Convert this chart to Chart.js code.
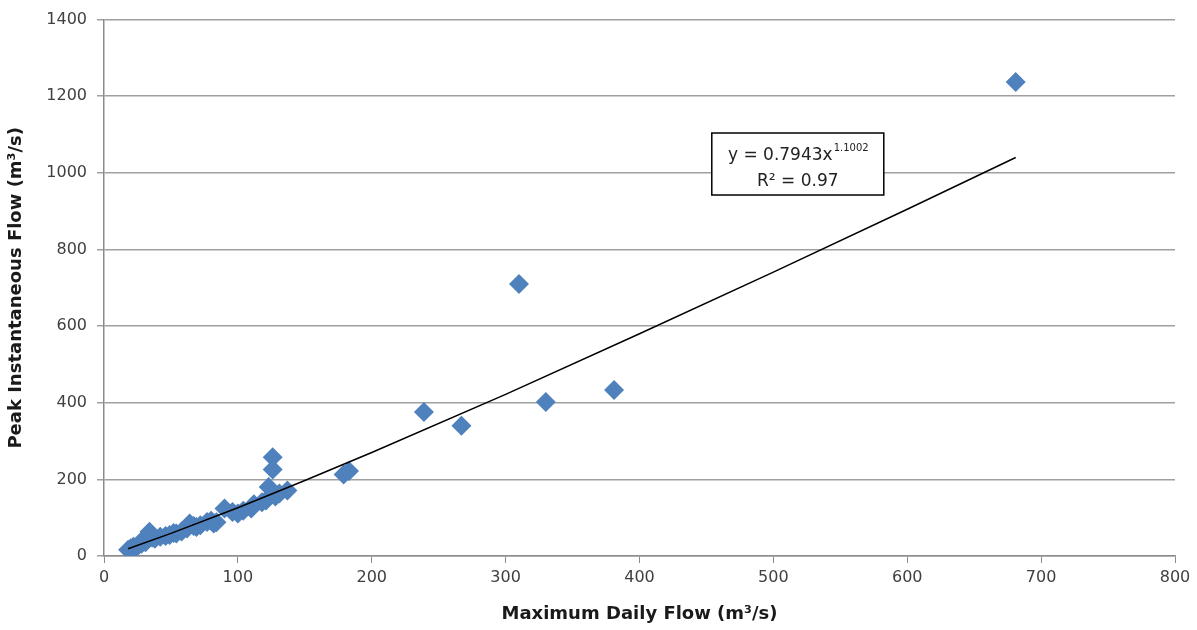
<!DOCTYPE html>
<html lang="en">
<head>
    <meta charset="UTF-8" />
    <title>Peak vs Maximum Daily Flow</title>
    <script src="https://cdn.jsdelivr.net/npm/chart.js"></script>
    <style>
        html, body { margin: 0; padding: 0; background: #fff; }
        #wrap { width: 1197px; height: 630px; }
    </style>
</head>
<body>
    <div id="wrap"><canvas id="flowChart" width="1197" height="630"></canvas></div>
    <script>
        // observed pairs (m3/s)
        const dailyFlow = [18, 20, 22, 24, 26, 28, 29, 31, 34, 36, 38, 42, 46, 49, 52, 54, 58, 62, 64, 67,
            69, 72, 77, 80, 82, 84, 90, 96, 100, 104, 110, 112, 118, 121, 123, 126, 126, 128, 131, 137,
            179, 183, 239, 267, 310, 330, 381, 681];
        const peakFlow = [16, 20, 24, 22, 30, 32, 42, 36, 63, 48, 45, 50, 52, 55, 60, 59, 64, 72, 85, 78,
            76, 80, 89, 92, 85, 88, 124, 115, 111, 118, 124, 135, 140, 145, 180, 258, 226, 155, 163, 171,
            213, 222, 376, 340, 710, 402, 433, 1237];

        // power trendline
        const trendX = [18, 50, 100, 150, 200, 300, 400, 500, 600, 681];
        const trendY = [19, 59, 126, 197, 270, 422, 580, 741, 905, 1040];

        const xTicks = [0, 100, 200, 300, 400, 500, 600, 700, 800];
        const yTicks = [0, 200, 400, 600, 800, 1000, 1200, 1400];

        // where the equation box sits, in data units (top-left)
        const eqAnchor = { x: 454, y: 1104 };

        const font = "'DejaVu Sans', sans-serif";
        const ctx = document.getElementById('flowChart').getContext('2d');

        const equationBox = {
            id: 'equationBox',
            afterDraw(chart) {
                const c = chart.ctx;
                const x0 = chart.scales.x.getPixelForValue(eqAnchor.x);
                const y0 = chart.scales.y.getPixelForValue(eqAnchor.y);
                const w = 172, h = 62;
                c.save();
                c.fillStyle = '#fff';
                c.fillRect(x0, y0, w, h);
                c.strokeStyle = '#000';
                c.lineWidth = 1.5;
                c.strokeRect(x0, y0, w, h);
                c.fillStyle = '#222';
                c.textBaseline = 'alphabetic';
                // line 1: y = 0.7943x^1.1002
                const main = 'y = 0.7943x';
                const sup = '1.1002';
                c.font = '17px ' + font;
                const mw = c.measureText(main).width;
                c.font = '10px ' + font;
                const sw = c.measureText(sup).width;
                let sx = x0 + (w - mw - sw) / 2;
                c.font = '17px ' + font;
                c.textAlign = 'left';
                c.fillText(main, sx, y0 + 27);
                c.font = '10px ' + font;
                c.fillText(sup, sx + mw + 1, y0 + 18);
                // line 2
                c.font = '17px ' + font;
                c.textAlign = 'center';
                c.fillText('R\u00b2 = 0.97', x0 + w / 2, y0 + 53);
                c.restore();
            }
        };

        new Chart(ctx, {
            type: 'scatter',
            data: {
                datasets: [{
                    label: 'Observed',
                    data: dailyFlow.map((v, i) => ({ x: v, y: peakFlow[i] })),
                    pointStyle: 'rectRot',
                    pointRadius: 10,
                    pointHoverRadius: 10,
                    backgroundColor: '#4F81BD',
                    borderColor: '#4F81BD',
                    borderWidth: 0,
                    order: 2
                }, {
                    label: 'Power fit',
                    type: 'line',
                    data: trendX.map((v, i) => ({ x: v, y: trendY[i] })),
                    borderColor: '#000',
                    borderWidth: 1.5,
                    pointRadius: 0,
                    fill: false,
                    tension: 0,
                    order: 1
                }]
            },
            options: {
                responsive: false,
                animation: false,
                layout: { padding: { top: 17, right: 22, left: 0, bottom: 0 } },
                plugins: {
                    legend: { display: false },
                    tooltip: { enabled: false }
                },
                scales: {
                    x: {
                        type: 'linear',
                        min: 0, max: 800,
                        afterBuildTicks: s => { s.ticks = xTicks.map(v => ({ value: v })); },
                        afterFit: s => { s.height = 74; },
                        grid: { drawOnChartArea: false, drawTicks: true, tickLength: 7, color: '#8c8c8c' },
                        border: { color: '#8c8c8c', width: 1.5 },
                        ticks: { color: '#404040', font: { family: font, size: 16 }, padding: 5, maxRotation: 0,
                            callback: v => String(v) },
                        title: {
                            display: true,
                            text: 'Maximum Daily Flow (m\u00b3/s)',
                            color: '#1a1a1a',
                            font: { family: font, size: 18, weight: 'bold' },
                            padding: { top: 0, bottom: 5 }
                        }
                    },
                    y: {
                        type: 'linear',
                        min: 0, max: 1400,
                        afterBuildTicks: s => { s.ticks = yTicks.map(v => ({ value: v })); },
                        afterFit: s => { s.width = 104; },
                        grid: { color: '#a0a0a0', lineWidth: 1.5, drawTicks: true, tickLength: 7 },
                        border: { color: '#8c8c8c', width: 1.5 },
                        ticks: { color: '#404040', font: { family: font, size: 16 }, padding: 10,
                            callback: v => String(v) },
                        title: {
                            display: true,
                            text: 'Peak Instantaneous Flow (m\u00b3/s)',
                            color: '#1a1a1a',
                            font: { family: font, size: 18, weight: 'bold' },
                            padding: { top: 6, bottom: 0 }
                        }
                    }
                }
            },
            plugins: [equationBox]
        });
    </script>
</body>
</html>
